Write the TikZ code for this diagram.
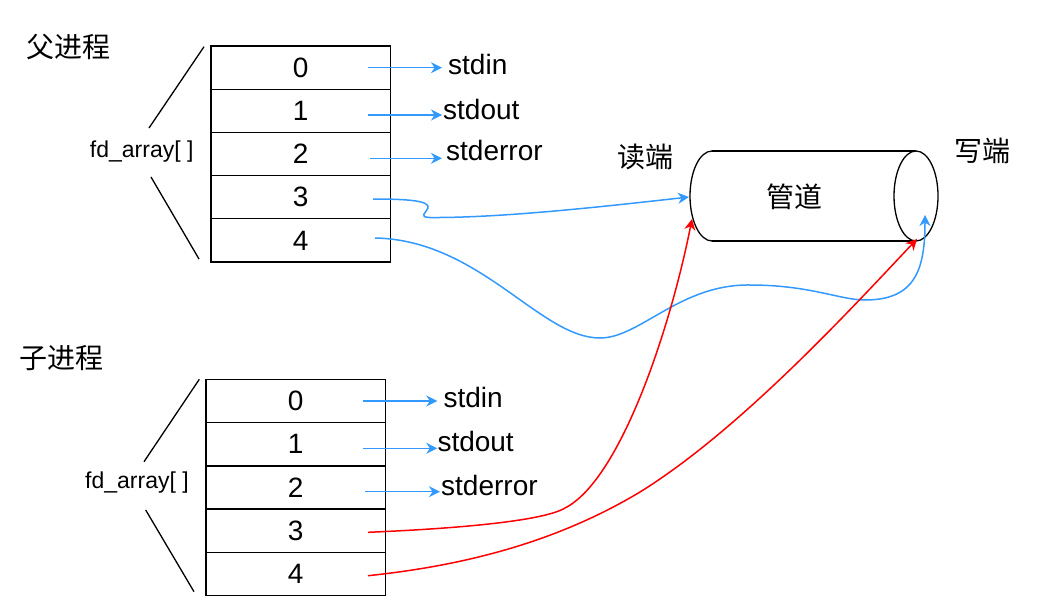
\documentclass[tikz,border=0pt]{standalone}
\usepackage{fontspec}
\setmainfont{Liberation Sans}
\newfontfamily\cjk{Noto Sans CJK SC}
\usetikzlibrary{arrows.meta}
\definecolor{myblue}{RGB}{51,153,255}
\definecolor{myred}{RGB}{255,0,0}
\begin{document}
\begin{tikzpicture}[x=1pt,y=-1pt,
  cell/.style={draw=black,line width=1.3pt,minimum width=179.5pt,minimum height=43.2pt,inner sep=0pt,font=\fontsize{28}{30}\selectfont},
  lbl/.style={anchor=base west,inner sep=0pt,font=\fontsize{28}{30}\selectfont},
  cn/.style={inner sep=0pt,font=\cjk\fontsize{28}{30}\selectfont},
  fdl/.style={inner sep=0pt,font=\fontsize{23}{25}\selectfont},
  tip/.style={-{Stealth[length=11pt,width=11pt,inset=3.5pt]}},
  bl/.style={draw=myblue,line width=1.5pt,tip},
  rl/.style={draw=myred,line width=1.5pt,tip},
  diag/.style={draw=black,line width=1.3pt},
  pipe/.style={draw=black,line width=1.3pt}
]
\useasboundingbox (0,0) rectangle (1059,615);

% titles
\node[cn] (ptitle) at (68.5,47.5) {父进程};
\node[cn] (ctitle) at (61,358) {子进程};

% parent table
\node[cell] (p0) at (300.75,67.6) {0};
\node[cell] (p1) at (300.75,110.8) {1};
\node[cell] (p2) at (300.75,154.0) {2};
\node[cell] (p3) at (300.75,197.2) {3};
\node[cell] (p4) at (300.75,240.4) {4};
\node[fdl] (pfd) at (141.7,151.7) {fd\_array[ ]};
\draw[diag] (204,46.7) -- (149,128);
\draw[diag] (151,177) -- (199,259);

% child table
\node[cell] (c0) at (295.75,401.1) {0};
\node[cell] (c1) at (295.75,444.3) {1};
\node[cell] (c2) at (295.75,487.5) {2};
\node[cell] (c3) at (295.75,530.7) {3};
\node[cell] (c4) at (295.75,573.9) {4};
\node[fdl] (cfd) at (137,483) {fd\_array[ ]};
\draw[diag] (199.3,379.3) -- (144,461.7);
\draw[diag] (145.7,510) -- (194,591.7);

% std labels
\node[lbl] (pin) at (448,75) {stdin};
\node[lbl] (pout) at (443,119.3) {stdout};
\node[lbl] (perr) at (446,160) {stderror};
\node[lbl] (cin) at (443.3,407.5) {stdin};
\node[lbl] (cout) at (437.3,451.7) {stdout};
\node[lbl] (cerr) at (441,495) {stderror};

% start points
\coordinate (ps0) at (368,67.7);
\coordinate (ps1) at (368,115);
\coordinate (ps2) at (370,158.3);
\coordinate (ps3) at (373,199);
\coordinate (ps4) at (375,238);
\coordinate (cs0) at (363,401);
\coordinate (cs1) at (363,448.3);
\coordinate (cs2) at (365,491.7);
\coordinate (cs3) at (368,532.3);
\coordinate (cs4) at (368,575.7);

% pipe
\draw[pipe] (712,151) -- (916,151) (712,241) -- (916,241);
\draw[pipe] (712,151) arc[start angle=90,end angle=270,x radius=22pt,y radius=45pt];
\draw[pipe,fill=white] (916,196) ellipse[x radius=22pt,y radius=45pt];
\node[cn] (pipe) at (794.7,196.7) {管道};
\node[cn] (rdl) at (645.8,156.7) {读端};
\node[cn] (wrl) at (982.5,150.8) {写端};
\coordinate (rd) at (689,197);
\coordinate (rdr) at (692,219);
\coordinate (wr) at (925,215);
\coordinate (wrr) at (917,239);

% std arrows
\draw[bl,shorten >=6pt] (ps0) -- (ps0 -| pin.west);
\draw[bl,shorten >=1pt] (ps1) -- (ps1 -| pout.west);
\draw[bl,shorten >=4pt] (ps2) -- (ps2 -| perr.west);
\draw[bl,shorten >=6pt] (cs0) -- (cs0 -| cin.west);
\draw[bl] (cs1) -- (cs1 -| cout.west);
\draw[bl,shorten >=1pt] (cs2) -- (cs2 -| cerr.west);

% pipe connectors
\draw[bl] (ps3) .. controls (410,199) and (430,201) .. (428,208)
  .. controls (426,213) and (418,217) .. (430,217.5)
  .. controls (500,218) and (600,207) .. (rd);
\draw[bl] (ps4) .. controls (480,240) and (540,338) .. (600,338)
  .. controls (640,338) and (680,284) .. (750,285)
  .. controls (810,285) and (840,300) .. (865,300)
  .. controls (915,300) and (925,270) .. (wr);
\draw[rl] (cs3) .. controls (470,528) and (545,520) .. (565,508)
  .. controls (620,480) and (670,330) .. (rdr);
\draw[rl] (cs4) .. controls (470,565) and (560,540) .. (640,492)
  .. controls (740,430) and (850,310) .. (wrr);
\end{tikzpicture}
\end{document}
